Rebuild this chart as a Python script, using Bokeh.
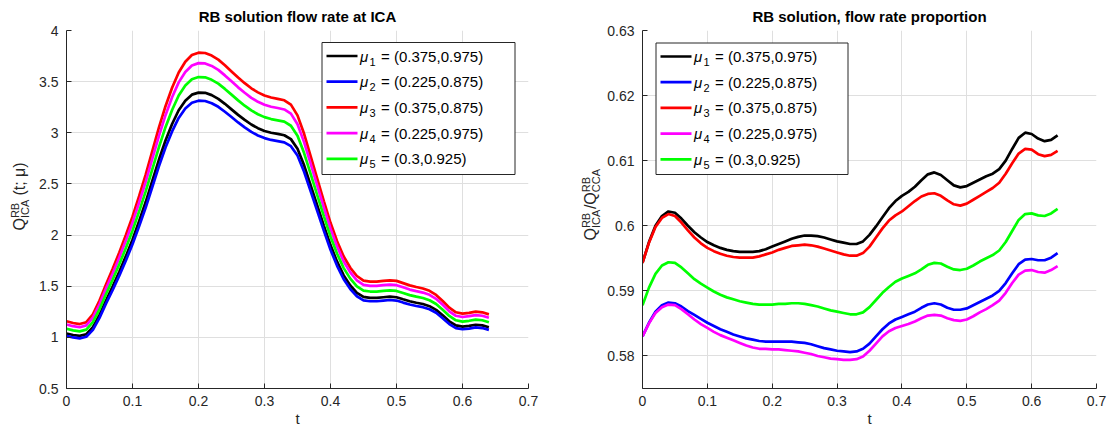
import math

from bokeh.embed import file_html
from bokeh.layouts import row
from bokeh.models import (BoxAnnotation, CustomJSTickFormatter, FixedTicker,
                          Label, Range1d)
from bokeh.plotting import figure
from bokeh.resources import INLINE

# ---------------------------------------------------------------- data
t = [round(0.01 * i, 2) for i in range(65)]

# flow rate at ICA, one curve per parameter pair
q_mu1 = [1.038, 1.023, 1.014, 1.030, 1.099, 1.220, 1.363, 1.498, 1.642, 1.794,
         1.955, 2.135, 2.323, 2.530, 2.736, 2.924, 3.086, 3.220, 3.314, 3.373,
         3.393, 3.391, 3.368, 3.332, 3.283, 3.229, 3.175, 3.126, 3.081, 3.045,
         3.018, 3.000, 2.989, 2.976, 2.938, 2.843, 2.682, 2.485, 2.287, 2.090,
         1.902, 1.740, 1.606, 1.507, 1.435, 1.395, 1.386, 1.386, 1.392, 1.398,
         1.392, 1.372, 1.353, 1.338, 1.326, 1.305, 1.269, 1.215, 1.157, 1.117,
         1.105, 1.112, 1.123, 1.117, 1.099]
q_mu2 = [1.014, 0.999, 0.990, 1.006, 1.073, 1.191, 1.332, 1.463, 1.603, 1.752,
         1.910, 2.085, 2.269, 2.470, 2.672, 2.856, 3.013, 3.145, 3.237, 3.294,
         3.314, 3.311, 3.289, 3.254, 3.206, 3.154, 3.101, 3.053, 3.009, 2.974,
         2.948, 2.930, 2.919, 2.907, 2.869, 2.777, 2.619, 2.427, 2.234, 2.041,
         1.857, 1.699, 1.568, 1.472, 1.402, 1.362, 1.353, 1.353, 1.360, 1.365,
         1.360, 1.340, 1.321, 1.307, 1.295, 1.275, 1.240, 1.187, 1.130, 1.091,
         1.079, 1.086, 1.097, 1.091, 1.073]
q_mu3 = [1.157, 1.140, 1.130, 1.148, 1.225, 1.360, 1.520, 1.670, 1.830, 2.000,
         2.180, 2.380, 2.590, 2.820, 3.050, 3.260, 3.440, 3.590, 3.695, 3.760,
         3.783, 3.780, 3.755, 3.715, 3.660, 3.600, 3.540, 3.485, 3.435, 3.395,
         3.365, 3.345, 3.332, 3.318, 3.275, 3.170, 2.990, 2.770, 2.550, 2.330,
         2.120, 1.940, 1.790, 1.680, 1.600, 1.555, 1.545, 1.545, 1.552, 1.558,
         1.552, 1.530, 1.508, 1.492, 1.478, 1.455, 1.415, 1.355, 1.290, 1.245,
         1.232, 1.240, 1.252, 1.245, 1.225]
q_mu4 = [1.126, 1.109, 1.099, 1.117, 1.192, 1.323, 1.479, 1.625, 1.781, 1.946,
         2.121, 2.316, 2.520, 2.744, 2.968, 3.172, 3.347, 3.493, 3.595, 3.658,
         3.681, 3.678, 3.654, 3.615, 3.561, 3.503, 3.444, 3.391, 3.342, 3.303,
         3.274, 3.255, 3.242, 3.228, 3.187, 3.084, 2.909, 2.695, 2.481, 2.267,
         2.063, 1.888, 1.742, 1.635, 1.557, 1.513, 1.503, 1.503, 1.510, 1.516,
         1.510, 1.489, 1.467, 1.452, 1.438, 1.416, 1.377, 1.318, 1.255, 1.211,
         1.199, 1.207, 1.218, 1.211, 1.192]
q_mu5 = [1.084, 1.068, 1.059, 1.076, 1.148, 1.274, 1.424, 1.565, 1.715, 1.874,
         2.043, 2.230, 2.427, 2.642, 2.858, 3.055, 3.223, 3.364, 3.462, 3.523,
         3.545, 3.542, 3.518, 3.481, 3.429, 3.373, 3.317, 3.265, 3.219, 3.181,
         3.153, 3.134, 3.122, 3.109, 3.069, 2.970, 2.802, 2.595, 2.389, 2.183,
         1.986, 1.818, 1.677, 1.574, 1.499, 1.457, 1.448, 1.448, 1.454, 1.460,
         1.454, 1.434, 1.413, 1.398, 1.385, 1.363, 1.326, 1.270, 1.209, 1.167,
         1.154, 1.162, 1.173, 1.167, 1.148]

# ICA / CCA flow rate proportion
r_mu1 = [0.5943, 0.5975, 0.6000, 0.6015, 0.6022, 0.6020, 0.6011, 0.6000, 0.5990, 0.5982,
         0.5975, 0.5970, 0.5966, 0.5963, 0.5961, 0.5960, 0.5960, 0.5960, 0.5961, 0.5964,
         0.5968, 0.5972, 0.5976, 0.5980, 0.5983, 0.5985, 0.5985, 0.5984, 0.5982, 0.5979,
         0.5976, 0.5974, 0.5972, 0.5972, 0.5976, 0.5986, 0.5999, 0.6013, 0.6027, 0.6038,
         0.6046, 0.6052, 0.6060, 0.6070, 0.6079, 0.6082, 0.6078, 0.6070, 0.6062, 0.6059,
         0.6061, 0.6066, 0.6071, 0.6076, 0.6080, 0.6087, 0.6100, 0.6118, 0.6135, 0.6143,
         0.6141, 0.6134, 0.6130, 0.6132, 0.6139]
r_mu2 = [0.5830, 0.5851, 0.5868, 0.5878, 0.5882, 0.5881, 0.5876, 0.5869, 0.5863, 0.5857,
         0.5851, 0.5846, 0.5841, 0.5837, 0.5833, 0.5830, 0.5827, 0.5825, 0.5823, 0.5822,
         0.5822, 0.5822, 0.5822, 0.5822, 0.5821, 0.5820, 0.5818, 0.5815, 0.5812, 0.5810,
         0.5808, 0.5807, 0.5806, 0.5807, 0.5811, 0.5819, 0.5830, 0.5841, 0.5850, 0.5856,
         0.5860, 0.5864, 0.5868, 0.5874, 0.5879, 0.5881, 0.5879, 0.5874, 0.5871, 0.5871,
         0.5873, 0.5878, 0.5883, 0.5888, 0.5893, 0.5900, 0.5912, 0.5927, 0.5941, 0.5948,
         0.5949, 0.5947, 0.5947, 0.5951, 0.5958]
r_mu3 = [0.5943, 0.5974, 0.5998, 0.6012, 0.6018, 0.6015, 0.6005, 0.5993, 0.5982, 0.5973,
         0.5966, 0.5961, 0.5957, 0.5954, 0.5952, 0.5951, 0.5951, 0.5951, 0.5953, 0.5956,
         0.5959, 0.5963, 0.5966, 0.5969, 0.5970, 0.5971, 0.5970, 0.5968, 0.5965, 0.5962,
         0.5959, 0.5956, 0.5954, 0.5954, 0.5958, 0.5968, 0.5982, 0.5996, 0.6008, 0.6016,
         0.6022, 0.6030, 0.6038, 0.6045, 0.6049, 0.6050, 0.6046, 0.6039, 0.6033, 0.6031,
         0.6034, 0.6040, 0.6046, 0.6052, 0.6058, 0.6066, 0.6080, 0.6096, 0.6111, 0.6118,
         0.6117, 0.6110, 0.6107, 0.6109, 0.6115]
r_mu4 = [0.5830, 0.5850, 0.5866, 0.5875, 0.5879, 0.5878, 0.5872, 0.5864, 0.5856, 0.5849,
         0.5843, 0.5837, 0.5832, 0.5828, 0.5824, 0.5820, 0.5816, 0.5813, 0.5811, 0.5811,
         0.5810, 0.5810, 0.5809, 0.5808, 0.5807, 0.5805, 0.5803, 0.5800, 0.5798, 0.5796,
         0.5795, 0.5794, 0.5794, 0.5795, 0.5799, 0.5808, 0.5819, 0.5830, 0.5838, 0.5843,
         0.5846, 0.5849, 0.5853, 0.5858, 0.5862, 0.5863, 0.5862, 0.5858, 0.5855, 0.5854,
         0.5856, 0.5861, 0.5867, 0.5872, 0.5878, 0.5885, 0.5897, 0.5912, 0.5925, 0.5931,
         0.5932, 0.5929, 0.5928, 0.5932, 0.5938]
r_mu5 = [0.5878, 0.5905, 0.5926, 0.5939, 0.5944, 0.5943, 0.5936, 0.5927, 0.5918, 0.5911,
         0.5905, 0.5899, 0.5894, 0.5890, 0.5887, 0.5884, 0.5882, 0.5880, 0.5879, 0.5879,
         0.5879, 0.5880, 0.5880, 0.5881, 0.5881, 0.5880, 0.5878, 0.5876, 0.5873, 0.5870,
         0.5868, 0.5866, 0.5864, 0.5864, 0.5867, 0.5875, 0.5886, 0.5897, 0.5906, 0.5914,
         0.5919, 0.5923, 0.5927, 0.5933, 0.5940, 0.5943, 0.5942, 0.5937, 0.5933, 0.5932,
         0.5934, 0.5939, 0.5945, 0.5950, 0.5955, 0.5962, 0.5975, 0.5992, 0.6009, 0.6018,
         0.6019, 0.6016, 0.6015, 0.6019, 0.6026]

mu_labels = ["(0.375,0.975)", "(0.225,0.875)", "(0.375,0.875)",
             "(0.225,0.975)", "(0.3,0.925)"]
colors = ["#000000", "#0000ff", "#ff0000", "#ff00ff", "#00ff00"]

x_ticks = [0, 0.1, 0.2, 0.3, 0.4, 0.5, 0.6, 0.7]
q_ticks = [0.5, 1, 1.5, 2, 2.5, 3, 3.5, 4]
r_ticks = [0.58, 0.59, 0.6, 0.61, 0.62, 0.63]

# ---------------------------------------------------------------- style
FONT = "Liberation Sans"
AX = "#262626"
GRID = "#dfdfdf"
LW = 2.7
H = 430


def make_axes(title, yr, yticks, frame_w, frame_h, b_left, b_right, b_top):
    p = figure(width=b_left + frame_w + b_right, height=H,
               x_range=Range1d(0, 0.7), y_range=Range1d(*yr),
               output_backend="svg", toolbar_location=None,
               min_border_left=b_left, min_border_right=b_right,
               min_border_top=b_top, min_border_bottom=H - b_top - frame_h)
    p.background_fill_color = "white"
    p.border_fill_color = "white"
    p.outline_line_color = None

    p.title.text = title
    p.title.align = "center"
    p.title.vertical_align = "middle"
    p.title.text_font = FONT
    p.title.text_font_size = "15px"
    p.title.text_font_style = "bold"
    p.title.text_color = "#000000"
    p.title.standoff = 10

    fmt = CustomJSTickFormatter(code="return String(tick)")
    p.xaxis.ticker = FixedTicker(ticks=x_ticks)
    p.yaxis.ticker = FixedTicker(ticks=yticks)
    for ax in (p.xaxis[0], p.yaxis[0]):
        ax.formatter = fmt
        ax.axis_line_color = AX
        ax.axis_line_width = 1
        ax.major_tick_line_color = AX
        ax.major_tick_in = 5
        ax.major_tick_out = 0
        ax.minor_tick_line_color = None
        ax.major_label_text_font = FONT
        ax.major_label_text_font_size = "14px"
        ax.major_label_text_color = AX
    p.xaxis.major_label_standoff = 7
    p.yaxis.major_label_standoff = 8
    p.xaxis.axis_label = "t"
    p.xaxis.axis_label_text_font = FONT
    p.xaxis.axis_label_text_font_size = "15px"
    p.xaxis.axis_label_text_font_style = "normal"
    p.xaxis.axis_label_text_color = AX
    p.xaxis.axis_label_standoff = 1

    p.xgrid.ticker = FixedTicker(ticks=x_ticks)
    p.ygrid.ticker = FixedTicker(ticks=yticks)
    for g in (p.xgrid[0], p.ygrid[0]):
        g.grid_line_color = GRID
        g.grid_line_width = 1
    return p


def label_strip(width, xb, y0, pieces):
    """Narrow blank canvas holding a rotated label built from pieces
    (text, size, baseline shift, advance); xb is the main baseline."""
    f = figure(width=width, height=H, x_range=Range1d(0, 1), y_range=Range1d(0, 1),
               output_backend="svg", toolbar_location=None,
               x_axis_type=None, y_axis_type=None,
               min_border_left=0, min_border_right=0,
               min_border_top=0, min_border_bottom=0)
    f.outline_line_color = None
    f.background_fill_color = "white"
    f.border_fill_color = "white"
    y = y0
    for text, size, shift, adv in pieces:
        # centre of the em box sits about 0.35 em above the baseline
        xm = xb + shift - 0.35 * size
        f.add_layout(Label(x=xm, y=y, x_units="screen", y_units="screen",
                           text=text, angle=math.pi / 2, text_font=FONT,
                           text_font_size=f"{size}px", text_color=AX,
                           text_align="left", text_baseline="middle"))
        y += adv
    return f


def add_legend(p, left, top, width, height):
    p.add_layout(BoxAnnotation(left=left, right=left + width,
                               top=top, bottom=top - height,
                               left_units="screen", right_units="screen",
                               top_units="screen", bottom_units="screen",
                               fill_color="white", fill_alpha=1.0,
                               line_color=AX, line_alpha=1.0, line_width=1))
    for i, (lab, col) in enumerate(zip(mu_labels, colors)):
        cy = top - 13.5 - i * 25.7
        p.add_layout(BoxAnnotation(left=left + 4.5, right=left + 35.5,
                                   top=cy + 1.35, bottom=cy - 1.35,
                                   left_units="screen", right_units="screen",
                                   top_units="screen", bottom_units="screen",
                                   fill_color=col, fill_alpha=1.0,
                                   line_color=None))
        p.add_layout(Label(x=left + 38, y=cy, x_units="screen", y_units="screen",
                           text="\u03bc", text_font=FONT, text_font_size="15px",
                           text_font_style="italic", text_color="#000000",
                           text_baseline="middle"))
        p.add_layout(Label(x=left + 47.5, y=cy - 5.5, x_units="screen", y_units="screen",
                           text=str(i + 1), text_font=FONT, text_font_size="11px",
                           text_color="#000000", text_baseline="middle"))
        p.add_layout(Label(x=left + 59, y=cy, x_units="screen", y_units="screen",
                           text="= " + lab, text_font=FONT, text_font_size="15px",
                           text_color="#000000", text_baseline="middle"))


# ---------------------------------------------------------------- left: flow rate
ylab1 = label_strip(36, 25, H - 236 - 36, [
    ("Q", 16, 0, 12.4),
    ("RB", 11, -7, 0),
    ("ICA", 11, 3.5, 22.5),
    ("(t; \u03bc)", 16, 0, 0),
])
p1 = make_axes("RB solution flow rate at ICA", (0.5, 4), q_ticks,
               frame_w=462, frame_h=360, b_left=30, b_right=28, b_top=28)
for ys, c in zip([q_mu1, q_mu2, q_mu3, q_mu4, q_mu5], colors):
    p1.line(t, ys, line_color=c, line_width=LW)
add_legend(p1, left=255.5, top=346, width=193, height=132)

# ---------------------------------------------------------------- right: proportion
ylab2 = label_strip(47, 40, H - 246 - 36, [
    ("Q", 16, 0, 12.4),
    ("RB", 11, -7, 0),
    ("ICA", 11, 3.5, 19),
    ("/Q", 16, 0, 16.9),
    ("RB", 11, -7, 0),
    ("CCA", 11, 3.5, 0),
])
p2 = make_axes("RB solution, flow rate proportion", (0.575, 0.63), r_ticks,
               frame_w=454, frame_h=358, b_left=39, b_right=16, b_top=30)
for ys, c in zip([r_mu1, r_mu2, r_mu3, r_mu4, r_mu5], colors):
    p2.line(t, ys, line_color=c, line_width=LW)
add_legend(p2, left=13.5, top=345.5, width=192, height=131.5)

open("out.html", "w").write(file_html(row(ylab1, p1, ylab2, p2), INLINE))
